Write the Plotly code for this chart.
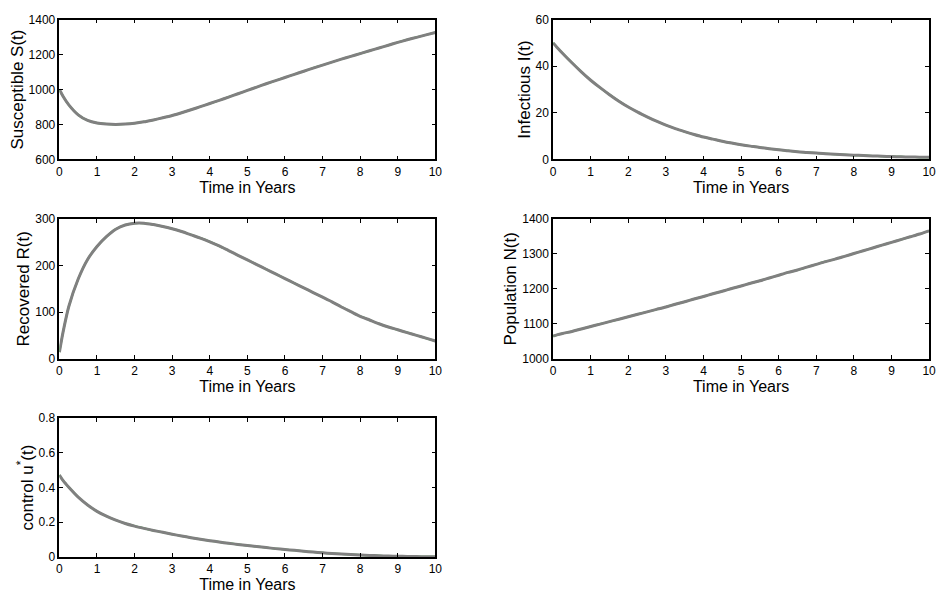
import plotly.graph_objects as go

t = [0, 0.1, 0.25, 0.5, 0.75, 1, 1.25, 1.5, 1.75, 2, 2.25, 2.5, 2.75, 3, 3.25,
     3.5, 3.75, 4, 4.25, 4.5, 4.75, 5, 5.25, 5.5, 5.75, 6, 6.25, 6.5, 6.75, 7,
     7.25, 7.5, 7.75, 8, 8.25, 8.5, 8.75, 9, 9.25, 9.5, 9.75, 10]

S = [1000, 960, 912, 855, 823, 808, 802, 800, 802, 807, 815, 826, 838, 851, 867,
     884, 902, 920, 938, 957, 976, 995, 1014, 1033, 1051, 1069, 1087, 1105, 1123, 1140,
     1157, 1174, 1190, 1206, 1222, 1238, 1254, 1270, 1285, 1299, 1313, 1327]

I = [50, 48.2, 45.6, 41.5, 37.6, 34.0, 30.8, 27.8, 25.0, 22.5, 20.3, 18.3, 16.4, 14.7, 13.2,
     11.9, 10.7, 9.6, 8.7, 7.8, 7.0, 6.3, 5.7, 5.1, 4.6, 4.1, 3.7, 3.3, 3.0, 2.7,
     2.4, 2.2, 2.0, 1.8, 1.65, 1.5, 1.35, 1.2, 1.1, 1.0, 0.95, 0.9]

R = [14, 58, 112, 171, 213, 241, 262, 278, 287, 291, 291, 288, 284, 279, 273,
     266, 259, 251, 242, 232, 222, 212, 202, 192, 182, 172, 162, 152, 142, 132,
     122, 111, 101, 91, 83, 75, 68, 62, 56, 50, 44, 38]

N = [1065, 1068, 1072, 1078, 1085, 1092, 1099, 1106, 1113, 1120, 1127, 1134, 1141, 1148, 1156,
     1163, 1171, 1178, 1186, 1193, 1201, 1208, 1216, 1223, 1231, 1239, 1247, 1254, 1262, 1270,
     1278, 1285, 1293, 1301, 1309, 1317, 1325, 1333, 1341, 1349, 1357, 1366]

U = [0.473, 0.44, 0.402, 0.345, 0.300, 0.263, 0.235, 0.212, 0.193, 0.178, 0.165, 0.153, 0.142, 0.131, 0.121,
     0.111, 0.102, 0.094, 0.086, 0.079, 0.072, 0.066, 0.060, 0.054, 0.048, 0.043, 0.038, 0.033, 0.028, 0.024,
     0.020, 0.017, 0.014, 0.011, 0.009, 0.007, 0.005, 0.004, 0.003, 0.002, 0.001, 0.001]

panels = [
    (S, "Susceptible S(t)", [600, 1400], 200),
    (I, "Infectious I(t)", [0, 60], 20),
    (R, "Recovered R(t)", [0, 300], 100),
    (N, "Population N(t)", [1000, 1400], 100),
    (U, "control u<sup>*</sup>(t)", [0, 0.8], 0.2),
]

W, H = 943, 604
xdoms = [(57, 437), (556, 936)]
ydoms = [(13, 156), (217, 360), (421, 563)]

fig = go.Figure()
layout = dict(
    width=W, height=H, margin=dict(l=0, r=0, t=0, b=0),
    paper_bgcolor="white", plot_bgcolor="white", showlegend=False,
)

tickfont = dict(family="Liberation Sans Narrow, Liberation Sans, Arial", size=12, color="black")
xtitlefont = dict(family="Liberation Sans Narrow, Liberation Sans, Arial", size=16, color="black")
ytitlefont = dict(family="Liberation Sans, Arial", size=17, color="black")

for k, (vals, ytitle, yr, dt) in enumerate(panels):
    col = k % 2
    row = k // 2
    xd = [xdoms[col][0] / W, xdoms[col][1] / W]
    yd = [1 - ydoms[row][1] / H, 1 - ydoms[row][0] / H]
    sfx = "" if k == 0 else str(k + 1)
    xa = "x" + sfx
    ya = "y" + sfx
    fig.add_trace(go.Scatter(x=t, y=vals, mode="lines", xaxis=xa, yaxis=ya,
                             line=dict(color="rgb(40,200,40)", width=2, shape="spline", smoothing=0.8),
                             hoverinfo="skip"))
    fig.add_trace(go.Scatter(x=t, y=vals, mode="lines", xaxis=xa, yaxis=ya,
                             line=dict(color="rgb(128,128,128)", width=3, shape="spline", smoothing=0.8)))
    common = dict(showline=True, linecolor="black", linewidth=1.5, mirror="allticks",
                  ticks="inside", ticklen=4, tickwidth=1, tickcolor="black",
                  showgrid=False, zeroline=False, tickfont=tickfont)
    layout["xaxis" + sfx] = dict(domain=xd, anchor=ya, range=[0, 10], dtick=1, tick0=0,
                                 title=dict(text="Time in Years", font=xtitlefont, standoff=2),
                                 **common)
    layout["yaxis" + sfx] = dict(domain=yd, anchor=xa, range=yr, dtick=dt, tick0=0,
                                 title=dict(text=ytitle, font=ytitlefont, standoff=1),
                                 **common)

fig.update_layout(**layout)
fig.write_html("out.html")
